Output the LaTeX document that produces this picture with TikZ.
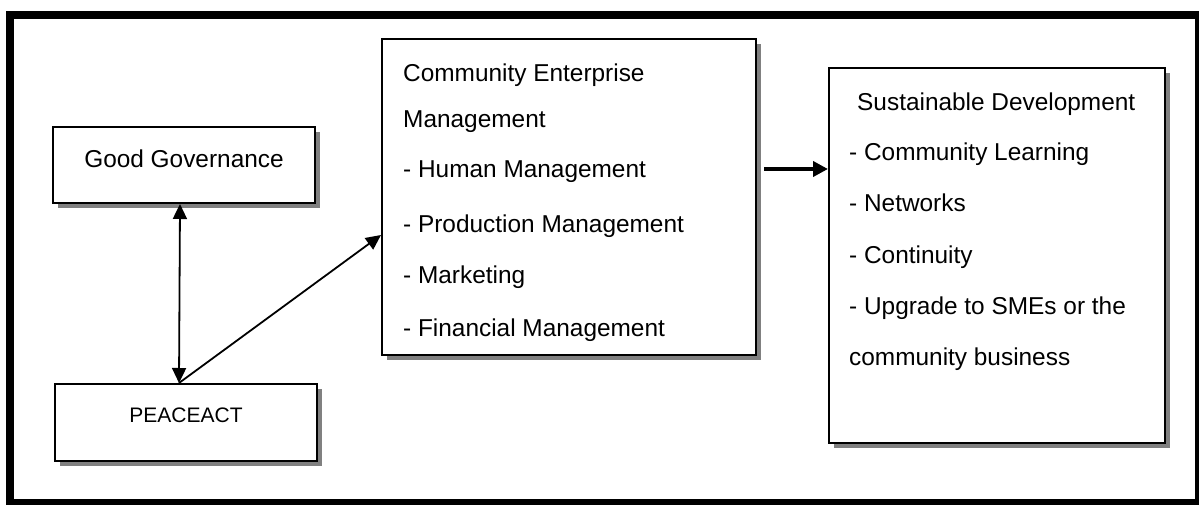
\documentclass[tikz,border=0pt]{standalone}
\usepackage{fontspec}
\setmainfont{Liberation Sans}
\usetikzlibrary{arrows.meta,shadows}
\begin{document}
\begin{tikzpicture}[x=1pt,y=-1pt,
  boxst/.style={draw=black, line width=2pt, fill=white, inner sep=0pt,
    drop shadow={shadow xshift=5pt, shadow yshift=-5pt, fill=black!50, opacity=1}},
  txt/.style={inner sep=0pt, font=\fontsize{24.4}{29}\selectfont},
  smalltxt/.style={inner sep=0pt, font=\fontsize{21}{25}\selectfont},
  thinarr/.style={line width=1.8pt, {Triangle[length=15pt,width=14pt]}-{Triangle[length=15pt,width=14pt]}},
  onearr/.style={line width=1.8pt, -{Triangle[length=15pt,width=14pt]}},
  thickarr/.style={line width=4pt, -{Triangle[length=15pt,width=15pt]}},
]
\useasboundingbox (0,0) rectangle (1199,505);
\fill[white] (0,0) rectangle (1199,505);
\draw[line width=8pt] (10,15) rectangle (1199,503);

% boxes
\node[boxst, minimum width=262pt, minimum height=76pt] (gg) at (184,165) {};
\node[boxst, minimum width=262pt, minimum height=77pt] (pe) at (186,422.5) {};
\node[boxst, minimum width=374pt, minimum height=316pt] (ce) at (569,197) {};
\node[boxst, minimum width=336pt, minimum height=375pt] (sd) at (997,255.5) {};

% texts
\node[txt, anchor=base] (ggt) at (184,168) {Good Governance};
\node[smalltxt, anchor=base] (pet) at (186,422) {PEACEACT};

\foreach \t/\yy [count=\i] in {Community Enterprise/82, Management/128, - Human Management/178, - Production Management/233, - Marketing/283, - Financial Management/336}
  \node[txt, anchor=base west] (ce\i) at (403,\yy) {\t};

\node[txt, anchor=base west] (sd0) at (857,110.5) {Sustainable Development};
\foreach \t/\yy [count=\i] in {- Community Learning/160.5, - Networks/211.5, - Continuity/263.5, - Upgrade to SMEs or the/314.5, community business/365.5}
  \node[txt, anchor=base west] (sd\i) at (849,\yy) {\t};

% connectors
\draw[thinarr] ([xshift=-4pt]gg.south) -- ([xshift=-7pt]pe.north);
\draw[onearr] ([xshift=-7pt]pe.north) -- ([yshift=-38pt]ce.west);
\coordinate (cestart) at ([xshift=7pt,yshift=28pt]ce.east);
\draw[thickarr] (cestart) -- (sd.west |- cestart);
\end{tikzpicture}
\end{document}
